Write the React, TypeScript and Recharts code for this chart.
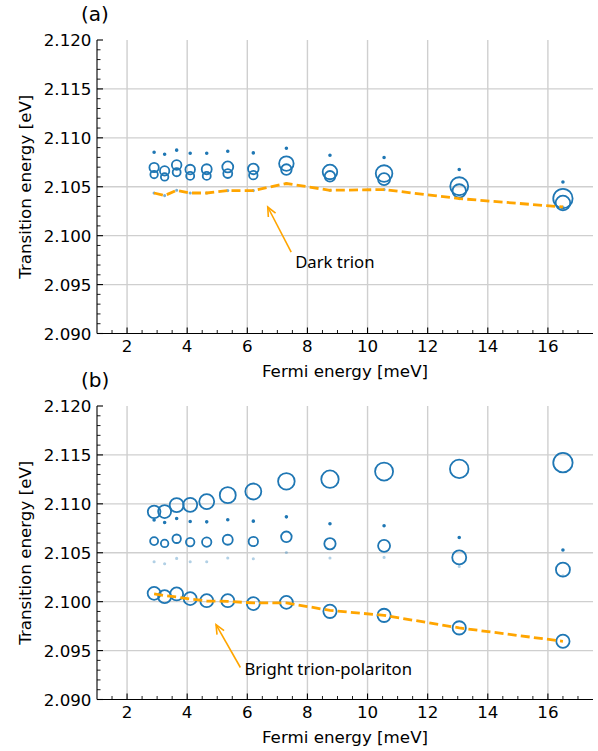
import React from 'react';
import { ScatterChart, Scatter, XAxis, YAxis, ZAxis, CartesianGrid, ReferenceLine } from 'recharts';

// ---------------- data ----------------
const fermi = [2.9, 3.25, 3.65, 4.1, 4.65, 5.35, 6.2, 7.3, 8.75, 10.55, 13.05, 16.5];

// Panel (a)
const aDotE = [2.10853, 2.10833, 2.10874, 2.10843, 2.10843, 2.10863, 2.10846, 2.10894, 2.10822, 2.10799, 2.10676, 2.10549];
const aDotW = [0.8, 0.8, 0.8, 0.8, 0.8, 0.8, 0.8, 0.8, 0.8, 0.8, 0.8, 0.8];
const aUpperE = [2.10697, 2.10662, 2.10723, 2.10676, 2.10679, 2.10703, 2.10682, 2.10737, 2.10651, 2.10635, 2.10505, 2.10379];
const aUpperW = [22, 22, 23, 23, 25, 30, 28, 53, 53, 69, 81, 94];
const aLowerE = [2.10625, 2.106, 2.10648, 2.10611, 2.10611, 2.10635, 2.10618, 2.10676, 2.10607, 2.10577, 2.10457, 2.10334];
const aLowerW = [14, 14, 16, 16, 16, 20, 18, 28, 28, 36, 45, 53];
const aDarkE = [2.10436, 2.1041, 2.10464, 2.10436, 2.10436, 2.10461, 2.10461, 2.10533, 2.10464, 2.10471, 2.10379, 2.10293];
const aDarkW = [0.6, 0.6, 0.6, 0.6, 0.6, 0.6, 0.6, 0.6, 0.6, 0.6, 0.6, 0.6];

// Panel (b)
const bTopE = [2.10918, 2.10921, 2.10987, 2.1099, 2.11023, 2.11089, 2.11126, 2.1123, 2.11252, 2.1133, 2.11357, 2.11421];
const bTopW = [40, 42, 49, 49, 56, 64, 64, 69, 76, 81, 86, 94];
const bDotE = [2.10834, 2.10809, 2.1085, 2.10819, 2.10816, 2.10837, 2.10823, 2.10867, 2.10796, 2.10776, 2.10656, 2.10528];
const bDotW = [0.8, 0.8, 0.8, 0.8, 0.8, 0.8, 0.8, 0.8, 0.8, 0.8, 0.8, 0.8];
const bMidE = [2.10619, 2.10595, 2.10643, 2.10609, 2.10609, 2.10633, 2.10615, 2.10663, 2.10592, 2.10571, 2.10452, 2.10327];
const bMidW = [16, 14, 18, 18, 22, 25, 22, 28, 32, 36, 49, 49];
const bFaintE = [2.10408, 2.10388, 2.10442, 2.10408, 2.10408, 2.10446, 2.10439, 2.10503, 2.10446, 2.10452, 2.1036, 2.10265];
const bFaintW = [0.6, 0.6, 0.6, 0.6, 0.6, 0.6, 0.6, 0.6, 0.6, 0.6, 0.6, 0.6];
const bLowE = [2.10085, 2.10051, 2.10079, 2.10031, 2.1001, 2.1001, 2.0998, 2.09993, 2.09901, 2.0986, 2.09732, 2.09595];
const bLowW = [42, 42, 42, 42, 42, 42, 42, 42, 44, 44, 44, 44];
const bLineE = [2.10079, 2.10061, 2.10048, 2.10026, 2.10007, 2.10003, 2.09987, 2.09987, 2.09911, 2.0986, 2.09732, 2.09595];

// ticks
const xMajor = [2, 4, 6, 8, 10, 12, 14, 16];
const xMinor = [1.5, 2.5, 3, 3.5, 4.5, 5, 5.5, 6.5, 7, 7.5, 8.5, 9, 9.5, 10.5, 11, 11.5, 12.5, 13, 13.5, 14.5, 15, 15.5, 16.5, 17];
const yMajor = [2.09, 2.095, 2.1, 2.105, 2.11, 2.115, 2.12];
const yMinor = [
  2.091, 2.092, 2.093, 2.094, 2.096, 2.097, 2.098, 2.099, 2.101, 2.102, 2.103, 2.104,
  2.106, 2.107, 2.108, 2.109, 2.111, 2.112, 2.113, 2.114, 2.116, 2.117, 2.118, 2.119,
];
const xDomain = [1, 17.5];
const yDomain = [2.09, 2.12];

// ---------------- styling ----------------
const BLUE = '#1f77b4';
const ORANGE = '#ffa500';
const FONT = '"DejaVu Sans", sans-serif';
const ANN_FONT = '"Noto Sans", sans-serif';
const FS = 16.7;

const PLOT_LEFT = 97;
const PLOT_RIGHT = 593;
const PLOT_TOP = 40;

const xTicksAll = [...xMajor, ...xMinor].sort((a, b) => a - b);
const yTicksAll = [...yMajor, ...yMinor].sort((a, b) => a - b);
const isMajor = (arr: number[], v: number) => arr.some((m) => Math.abs(m - v) < 1e-7);

const zip = (ys: number[], ws?: number[]) => fermi.map((x, i) => ({ x, y: ys[i], w: ws ? ws[i] : 1 }));

const ring = (color: string, sw: number, opacity = 1) => (p: any) => {
  const r = p.size != null ? Math.sqrt(Math.max(p.size, 0) / Math.PI) : (p.width || 0) / 2;
  if (p.cx == null || p.cy == null) return <g />;
  return <circle cx={p.cx} cy={p.cy} r={r} fill="none" stroke={color} strokeWidth={sw} opacity={opacity} />;
};

const BottomTick = (p: any) => {
  const v = p.payload.value;
  const major = isMajor(xMajor, v);
  return (
    <g>
      <line x1={p.x} x2={p.x} y1={p.y} y2={p.y - (major ? 6 : 3.5)} stroke="#000" strokeWidth={major ? 1.1 : 0.9} />
      {major && (
        <text x={p.x} y={p.y + 18.7} textAnchor="middle" fontFamily={FONT} fontSize={FS} fill="#000">
          {v}
        </text>
      )}
    </g>
  );
};
const TopTick = (p: any) => {
  const major = isMajor(xMajor, p.payload.value);
  return <line x1={p.x} x2={p.x} y1={p.y} y2={p.y + (major ? 6 : 3.5)} stroke="#000" strokeWidth={major ? 1.1 : 0.9} />;
};
const LeftTick = (p: any) => {
  const v = p.payload.value;
  const major = isMajor(yMajor, v);
  return (
    <g>
      <line x1={p.x} x2={p.x + (major ? 6 : 3.5)} y1={p.y} y2={p.y} stroke="#000" strokeWidth={major ? 1.1 : 0.9} />
      {major && (
        <text x={p.x - 5.5} y={p.y + 6.1} textAnchor="end" fontFamily={FONT} fontSize={FS} fill="#000">
          {v.toFixed(3)}
        </text>
      )}
    </g>
  );
};
const RightTick = (p: any) => {
  const major = isMajor(yMajor, p.payload.value);
  return <line x1={p.x} x2={p.x - (major ? 6 : 3.5)} y1={p.y} y2={p.y} stroke="#000" strokeWidth={major ? 1.1 : 0.9} />;
};

const makeArrow = (text: string, dx: number, dy: number) => (p: any) => {
  const { x1, y1, x2, y2 } = p;
  if ([x1, y1, x2, y2].some((v) => v == null || isNaN(v))) return <g />;
  const ang = Math.atan2(y2 - y1, x2 - x1);
  const L = 10;
  const a = 0.42;
  const hx1 = x2 - L * Math.cos(ang - a);
  const hy1 = y2 - L * Math.sin(ang - a);
  const hx2 = x2 - L * Math.cos(ang + a);
  const hy2 = y2 - L * Math.sin(ang + a);
  return (
    <g>
      <line x1={x1} y1={y1} x2={x2} y2={y2} stroke={ORANGE} strokeWidth={1.6} />
      <polyline points={`${hx1},${hy1} ${x2},${y2} ${hx2},${hy2}`} fill="none" stroke={ORANGE} strokeWidth={1.6} />
      <text x={x1 + dx} y={y1 + dy} fontFamily={ANN_FONT} fontSize={FS} fill="#000">
        {text}
      </text>
    </g>
  );
};

type Series = { ys: number[]; ws?: number[]; color: string; sw: number; opacity?: number };

type PanelProps = {
  letter: string;
  height: number;
  series: Series[];
  line: number[];
  arrow: { tail: [number, number]; tip: [number, number]; text: string; dx: number; dy: number };
};

const Panel = ({ letter, height, series, line, arrow }: PanelProps) => {
  const plotH = 293.5;
  const xAxisH = height - PLOT_TOP - plotH;
  const plotBottom = PLOT_TOP + plotH;
  return (
    <ScatterChart width={598} height={height} margin={{ top: PLOT_TOP, right: 598 - PLOT_RIGHT, bottom: 0, left: 0 }}>
      <CartesianGrid
        verticalValues={xMajor}
        horizontalValues={yMajor.slice(1, -1)}
        stroke="#cfcfcf"
        strokeWidth={1.4}
      />
      <XAxis
        dataKey="x"
        type="number"
        domain={xDomain}
        allowDataOverflow
        ticks={xTicksAll}
        interval={0}
        tickSize={0}
        tickMargin={0}
        height={xAxisH}
        axisLine={{ stroke: '#000', strokeWidth: 1.1 }}
        tickLine={false}
        tick={(p: any) => <BottomTick {...p} />}
        label={() => (
          <text x={(PLOT_LEFT + PLOT_RIGHT) / 2} y={plotBottom + 43} textAnchor="middle" fontFamily={FONT} fontSize={FS} fill="#000">
            Fermi energy [meV]
          </text>
        )}
      />
      <XAxis
        xAxisId="top"
        orientation="top"
        dataKey="x"
        type="number"
        domain={xDomain}
        allowDataOverflow
        ticks={xTicksAll}
        interval={0}
        tickSize={0}
        tickMargin={0}
        height={0}
        axisLine={{ stroke: '#000', strokeWidth: 1.1 }}
        tickLine={false}
        tick={(p: any) => <TopTick {...p} />}
      />
      <YAxis
        dataKey="y"
        type="number"
        domain={yDomain}
        allowDataOverflow
        ticks={yTicksAll}
        interval={0}
        tickSize={0}
        tickMargin={0}
        width={PLOT_LEFT}
        axisLine={{ stroke: '#000', strokeWidth: 1.1 }}
        tickLine={false}
        tick={(p: any) => <LeftTick {...p} />}
        label={() => (
          <g>
            <text
              transform={`translate(30.5, ${PLOT_TOP + plotH / 2}) rotate(-90)`}
              textAnchor="middle"
              fontFamily={FONT}
              fontSize={FS}
              fill="#000"
            >
              Transition energy [eV]
            </text>
            <text x={81} y={PLOT_TOP - 19.5} fontFamily={FONT} fontSize={20} fill="#000">
              {letter}
            </text>
          </g>
        )}
      />
      <YAxis
        yAxisId="right"
        orientation="right"
        dataKey="y"
        type="number"
        domain={yDomain}
        allowDataOverflow
        ticks={yTicksAll}
        interval={0}
        tickSize={0}
        tickMargin={0}
        width={0}
        axisLine={{ stroke: '#000', strokeWidth: 1.1 }}
        tickLine={false}
        tick={(p: any) => <RightTick {...p} />}
      />
      <ZAxis dataKey="w" type="number" domain={[0, 100]} range={[0, 100 * Math.PI]} />
      {series.map((s, i) => (
        <Scatter
          key={i}
          data={zip(s.ys, s.ws)}
          fill={s.color}
          shape={ring(s.color, s.sw, s.opacity ?? 1)}
          isAnimationActive={false}
        />
      ))}
      <Scatter
        data={zip(line)}
        fill={ORANGE}
        line={{ stroke: ORANGE, strokeWidth: 2.8, strokeDasharray: '9 4.2' }}
        shape={() => <g />}
        isAnimationActive={false}
      />
      <ReferenceLine
        segment={[
          { x: arrow.tail[0], y: arrow.tail[1] },
          { x: arrow.tip[0], y: arrow.tip[1] },
        ]}
        shape={makeArrow(arrow.text, arrow.dx, arrow.dy)}
        stroke={ORANGE}
      />
    </ScatterChart>
  );
};

export default function App() {
  return (
    <div style={{ position: 'absolute', left: 0, top: 0, width: 598, height: 751, background: '#fff' }}>
      <div style={{ position: 'absolute', left: 0, top: 0 }}>
        <Panel
          letter="(a)"
          height={383}
          line={aDarkE}
          series={[
            { ys: aDarkE, ws: aDarkW, color: BLUE, sw: 1.6, opacity: 0.6 },
            { ys: aDotE, ws: aDotW, color: BLUE, sw: 1.8 },
            { ys: aUpperE, ws: aUpperW, color: BLUE, sw: 1.8 },
            { ys: aLowerE, ws: aLowerW, color: BLUE, sw: 1.8 },
          ]}
          arrow={{ tail: [7.46, 2.09832], tip: [6.68, 2.10293], text: 'Dark trion', dx: 4, dy: 16 }}
        />
      </div>
      <div style={{ position: 'absolute', left: 0, top: 366 }}>
        <Panel
          letter="(b)"
          height={385}
          line={bLineE}
          series={[
            { ys: bFaintE, ws: bFaintW, color: BLUE, sw: 1.6, opacity: 0.35 },
            { ys: bDotE, ws: bDotW, color: BLUE, sw: 1.8 },
            { ys: bMidE, ws: bMidW, color: BLUE, sw: 1.8 },
            { ys: bTopE, ws: bTopW, color: BLUE, sw: 1.8 },
            { ys: bLowE, ws: bLowW, color: BLUE, sw: 1.8 },
          ]}
          arrow={{ tail: [5.77, 2.09327], tip: [4.96, 2.09765], text: 'Bright trion-polariton', dx: 4, dy: 7 }}
        />
      </div>
    </div>
  );
}
